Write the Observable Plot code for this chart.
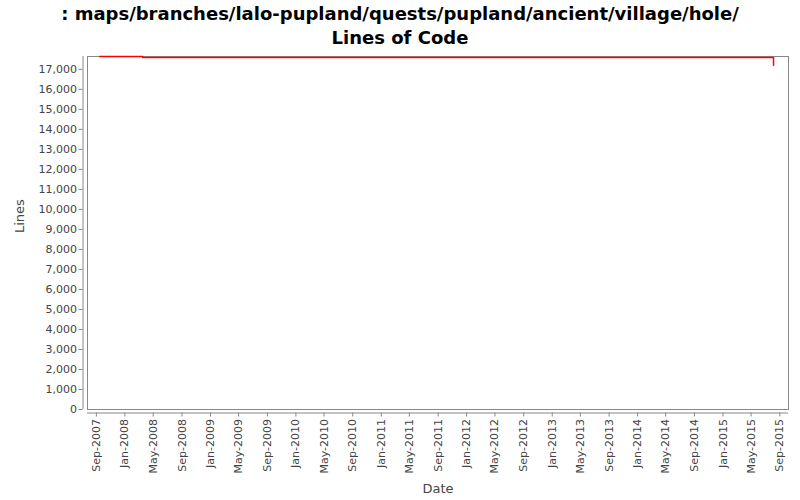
<!DOCTYPE html>
<html>
<head>
<meta charset="utf-8">
<script src="https://cdn.jsdelivr.net/npm/d3@7"></script>
<script src="https://cdn.jsdelivr.net/npm/@observablehq/plot@0.6"></script>
<style>
  html, body { margin: 0; padding: 0; background: #fff; }
  #wrap { width: 800px; height: 500px; overflow: hidden; font-family: "DejaVu Sans", sans-serif; }
  #title { height: 52px; box-sizing: border-box; padding-top: 2px; text-align: center; font-weight: bold; font-size: 18px; line-height: 24px; color: #000; }
  svg { display: block; }
</style>
</head>
<body>
<div id="wrap">
  <div id="title">: maps/branches/lalo-pupland/quests/pupland/ancient/village/hole/<br>Lines of Code</div>
  <div id="chart"></div>
</div>
<script>
const dates = ["2007-09-15", "2008-03-17", "2015-08-04", "2015-08-05"];
const lines = [17635, 17590, 17590, 17200];
const xTicks = ["2007-09-01","2008-01-01","2008-05-01","2008-09-01","2009-01-01","2009-05-01","2009-09-01",
  "2010-01-01","2010-05-01","2010-09-01","2011-01-01","2011-05-01","2011-09-01","2012-01-01","2012-05-01",
  "2012-09-01","2013-01-01","2013-05-01","2013-09-01","2014-01-01","2014-05-01","2014-09-01","2015-01-01",
  "2015-05-01","2015-09-01"];
const yTicks = [0,1000,2000,3000,4000,5000,6000,7000,8000,9000,10000,11000,12000,13000,14000,15000,16000,17000];
const xLabel = "Date";
const yLabel = "Lines";

const data = dates.map((d, i) => ({date: new Date(d + "T00:00:00Z"), lines: lines[i]}));
const xDomain = [new Date("2007-07-25T00:00:00Z"), new Date("2015-10-08T00:00:00Z")];
const fmtDate = d3.utcFormat("%b-%Y");
const fmtNum = d3.format(",");

const chart = Plot.plot({
  width: 800,
  height: 448,
  marginTop: 4,
  marginBottom: 91,
  marginLeft: 87,
  marginRight: 12,
  style: {fontFamily: "DejaVu Sans, sans-serif", background: "#fff"},
  x: {type: "utc", domain: xDomain},
  y: {domain: [0, 17640]},
  marks: [
    Plot.frame({stroke: "#888", strokeWidth: 1}),
    Plot.ruleX([xDomain[0]], {dx: -4.5, stroke: "#888"}),
    Plot.ruleY([0], {dy: 3.5, stroke: "#888"}),
    Plot.axisY({ticks: yTicks, tickFormat: fmtNum, tickSize: 4, dx: -4.5, tickPadding: 2, fontSize: 11, color: "#444", stroke: "#888", label: null}),
    Plot.axisX({ticks: xTicks.map(s => new Date(s + "T00:00:00Z")), tickFormat: fmtDate, tickSize: 4, dy: 3.5, tickPadding: 2, tickRotate: -90, fontSize: 11, color: "#444", stroke: "#888", label: null}),
    Plot.line(data, {x: "date", y: "lines", stroke: "#ff0000", strokeWidth: 1.5, curve: "step-after"}),
    Plot.text([xLabel], {frameAnchor: "bottom", dy: 79, text: d => d, fontSize: 13, fill: "#444", lineAnchor: "middle"}),
    Plot.text([yLabel], {frameAnchor: "left", dx: -68, text: d => d, fontSize: 13, fill: "#444", rotate: -90, lineAnchor: "middle"})
  ]
});
document.getElementById("chart").appendChild(chart);
</script>
</body>
</html>
